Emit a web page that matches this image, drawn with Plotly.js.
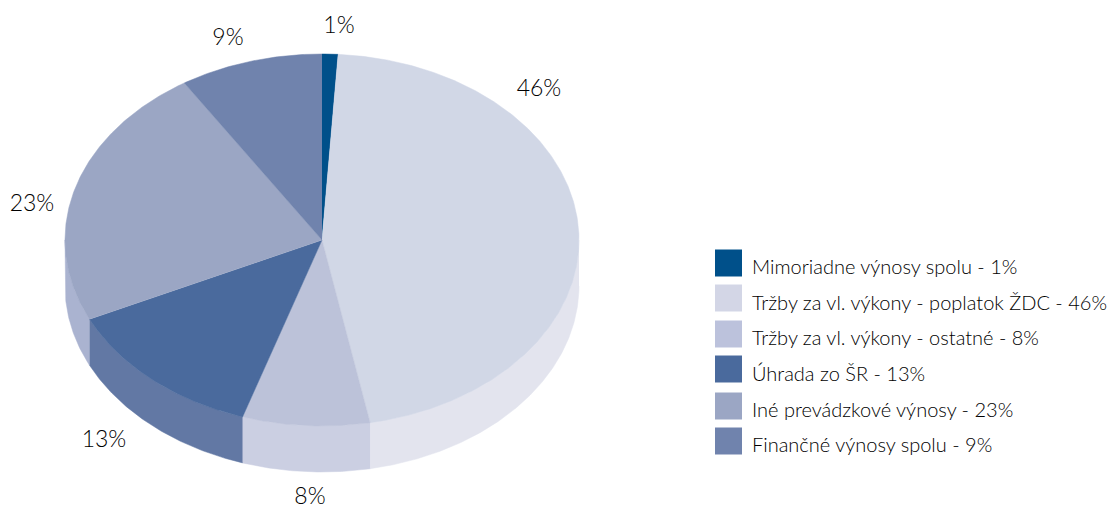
<!DOCTYPE html>
<html><head><meta charset="utf-8">
<script src="https://cdn.plot.ly/plotly-3.0.1.min.js"></script>
<style>html,body{margin:0;padding:0;background:#fff;overflow:hidden}#c{width:1112px;height:511px}</style>
</head><body><div id="c"></div>
<script>
const categories = ["Mimoriadne výnosy spolu","Tržby za vl. výkony - poplatok ŽDC","Tržby za vl. výkony - ostatné","Úhrada zo ŠR","Iné prevádzkové výnosy","Finančné výnosy spolu"];
const values = [1,46,8,13,23,9];
const topColors = ["#00508a","#d1d7e6","#bcc2d9","#4a6a9d","#9ba6c4","#7083ad"];
const sideColors = ["#00508a","#e3e4ee","#cbcfe2","#6278a4","#aab3d0","#7083ad"];
const legendColors = ["#00508a","#d3d6e6","#bcc2dc","#4a6a9d","#9ba6c4","#7083ad"];
// layout constants (style / placement, not data)
const CX=322, CY=240, RX=257, RY=186, DEPTH=46;
const labelX=[339,539,310,104,32,228], labelY=[27,90,498,441,205,39];
const legendY=[263,298,334,369,406,441];
const legendTextY=[269,305,340,376,412,447];
const FONT="Lato, sans-serif";

const total = values.reduce((a,b)=>a+b,0);
const pt=(deg,dy)=>{const r=deg*Math.PI/180;return [CX+RX*Math.sin(r),CY-RY*Math.cos(r)+dy];};
const arc=(a,b,dy)=>{const n=Math.max(2,Math.ceil(Math.abs(b-a)*2));const o=[];for(let i=0;i<=n;i++)o.push(pt(a+(b-a)*i/n,dy));return o;};
const poly=(pts,color)=>({type:"scatter",mode:"lines",x:pts.map(p=>p[0]),y:pts.map(p=>p[1]),fill:"toself",fillcolor:color,line:{color:color,width:0.5},hoverinfo:"skip",showlegend:false});

const sides=[],tops=[];
let acc=0;
values.forEach((v,i)=>{
  const a0=acc/total*360,a1=(acc+v)/total*360;acc+=v;
  const s0=Math.max(a0,90),s1=Math.min(a1,270);
  if(s1>s0){sides.push(poly(arc(s0,s1,0).concat(arc(s1,s0,DEPTH)),sideColors[i]));}
  tops.push(poly([[CX,CY]].concat(arc(a0,a1,0)),topColors[i]));
});
const pct=values.map(v=>v+"%");
const labels={type:"scatter",mode:"text",x:labelX,y:labelY,text:pct,textposition:"middle center",textfont:{family:FONT,size:23,weight:300,color:"#000"},hoverinfo:"skip",showlegend:false};
const swatch={type:"scatter",mode:"markers",x:categories.map(()=>728.5),y:legendY,marker:{symbol:"square",size:27,color:legendColors,line:{width:0}},hoverinfo:"skip",showlegend:false};
const legendText={type:"scatter",mode:"text",x:categories.map(()=>752),y:legendTextY,text:categories.map((c,i)=>c+" - "+pct[i]),textposition:"middle right",textfont:{family:FONT,size:20,weight:300,color:"#000"},hoverinfo:"skip",showlegend:false};

Plotly.newPlot("c",[...sides,...tops,labels,swatch,legendText],{
  width:1112,height:511,margin:{l:0,r:0,t:0,b:0},paper_bgcolor:"#fff",plot_bgcolor:"#fff",showlegend:false,
  xaxis:{range:[0,1112],visible:false,fixedrange:true},
  yaxis:{range:[511,0],visible:false,fixedrange:true}
},{displayModeBar:false,staticPlot:true});
</script></body></html>
